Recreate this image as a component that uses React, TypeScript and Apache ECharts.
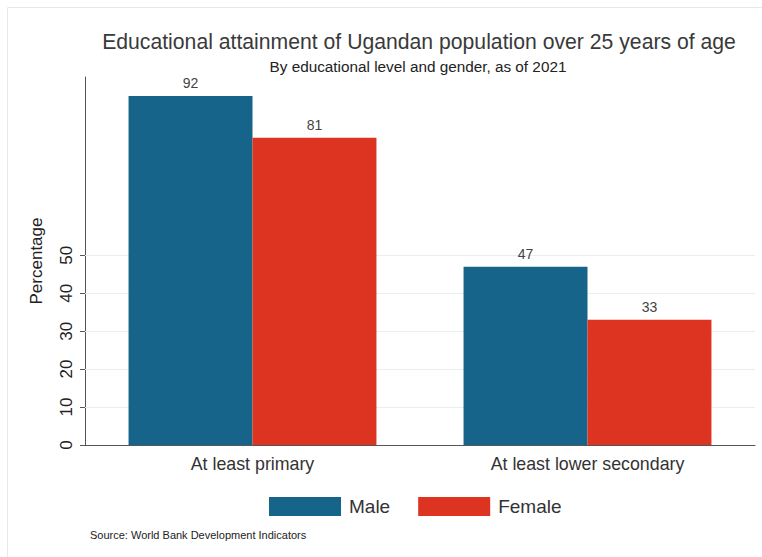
import React, { useEffect, useRef } from "react";
import * as echarts from "echarts";

const categories = ["At least primary", "At least lower secondary"];
const maleValues = [92, 47];
const femaleValues = [81, 33];
const yTickValues = [0, 10, 20, 30, 40, 50];
const gridValues = [10, 20, 30, 40, 50];
const seriesNames = ["Male", "Female"];

const TITLE = "Educational attainment of Ugandan population over 25 years of age";
const SUBTITLE = "By educational level and gender, as of 2021";
const SOURCE = "Source: World Bank Development Indicators";

export default function App() {
  const ref = useRef<HTMLDivElement>(null);
  useEffect(() => {
    if (!ref.current) return;
    const chart = echarts.init(ref.current, undefined, { renderer: "svg" });
    const font = "'Liberation Sans', Arial, Helvetica, sans-serif";
    const labelCfg = {
      show: true,
      position: "top" as const,
      distance: 6,
      fontSize: 14,
      color: "#444",
      fontFamily: font,
    };
    chart.setOption({
      animation: false,
      backgroundColor: "#ffffff",
      textStyle: { fontFamily: font },
      title: [
        {
          text: TITLE,
          left: 414,
          textAlign: "center",
          top: 26,
          textStyle: { fontSize: 21.2, fontWeight: "normal", color: "#3a3a3a", fontFamily: font },
        },
        {
          text: SUBTITLE,
          left: 413,
          textAlign: "center",
          top: 54,
          textStyle: { fontSize: 15.3, fontWeight: "normal", color: "#222", fontFamily: font },
        },
      ],
      graphic: [
        {
          type: "rect",
          shape: { x: 7.5, y: 7.5, width: 760, height: 560 },
          style: { fill: "none", stroke: "#e4eaec", lineWidth: 1 },
          silent: true,
        },
        {
          type: "text",
          left: 90,
          top: 529,
          style: { text: SOURCE, fontSize: 11, fill: "#222", fontFamily: font },
        },
      ],
      legend: {
        data: seriesNames,
        left: 264,
        top: 492,
        itemWidth: 72,
        itemHeight: 19,
        itemGap: 28,
        textStyle: { fontSize: 19, color: "#333", fontFamily: font, padding: [0, 0, 0, 3] },
        icon: "rect",
      },
      grid: { left: 85, right: 7, top: 77, bottom: 112, containLabel: false },
      xAxis: {
        type: "category",
        data: categories,
        axisLine: { lineStyle: { color: "#555", width: 1 } },
        axisTick: { show: false },
        axisLabel: { fontSize: 17.8, color: "#333", margin: 10, fontFamily: font },
      },
      yAxis: {
        type: "value",
        min: 0,
        max: 97,
        name: "Percentage",
        nameLocation: "middle",
        nameGap: 40,
        nameRotate: 90,
        nameTextStyle: { fontSize: 17, color: "#222", fontFamily: font },
        axisLine: { show: true, lineStyle: { color: "#555", width: 1 } },
        axisTick: { show: true, length: 5, customValues: yTickValues, lineStyle: { color: "#555" } },
        axisLabel: {
          rotate: 90,
          fontSize: 17,
          color: "#222",
          margin: 10,
          customValues: yTickValues,
          fontFamily: font,
        },
        splitLine: { show: false },
      },
      series: [
        {
          name: seriesNames[0],
          type: "bar",
          data: maleValues,
          barGap: "0%",
          barCategoryGap: "26%",
          itemStyle: { color: "#17648b" },
          label: labelCfg,
          z: 2,
          markLine: {
            silent: true,
            z: 1,
            symbol: ["none", "none"],
            label: { show: false },
            lineStyle: { color: "#e6eef1", width: 1, type: "solid" },
            data: gridValues.map((v) => ({ yAxis: v })),
          },
        },
        {
          name: seriesNames[1],
          type: "bar",
          data: femaleValues,
          itemStyle: { color: "#dd3421" },
          label: labelCfg,
          z: 2,
        },
      ],
    });
    return () => chart.dispose();
  }, []);
  return (
    <div
      ref={ref}
      style={{ position: "fixed", left: 0, top: 0, width: 762, height: 557 }}
    />
  );
}
